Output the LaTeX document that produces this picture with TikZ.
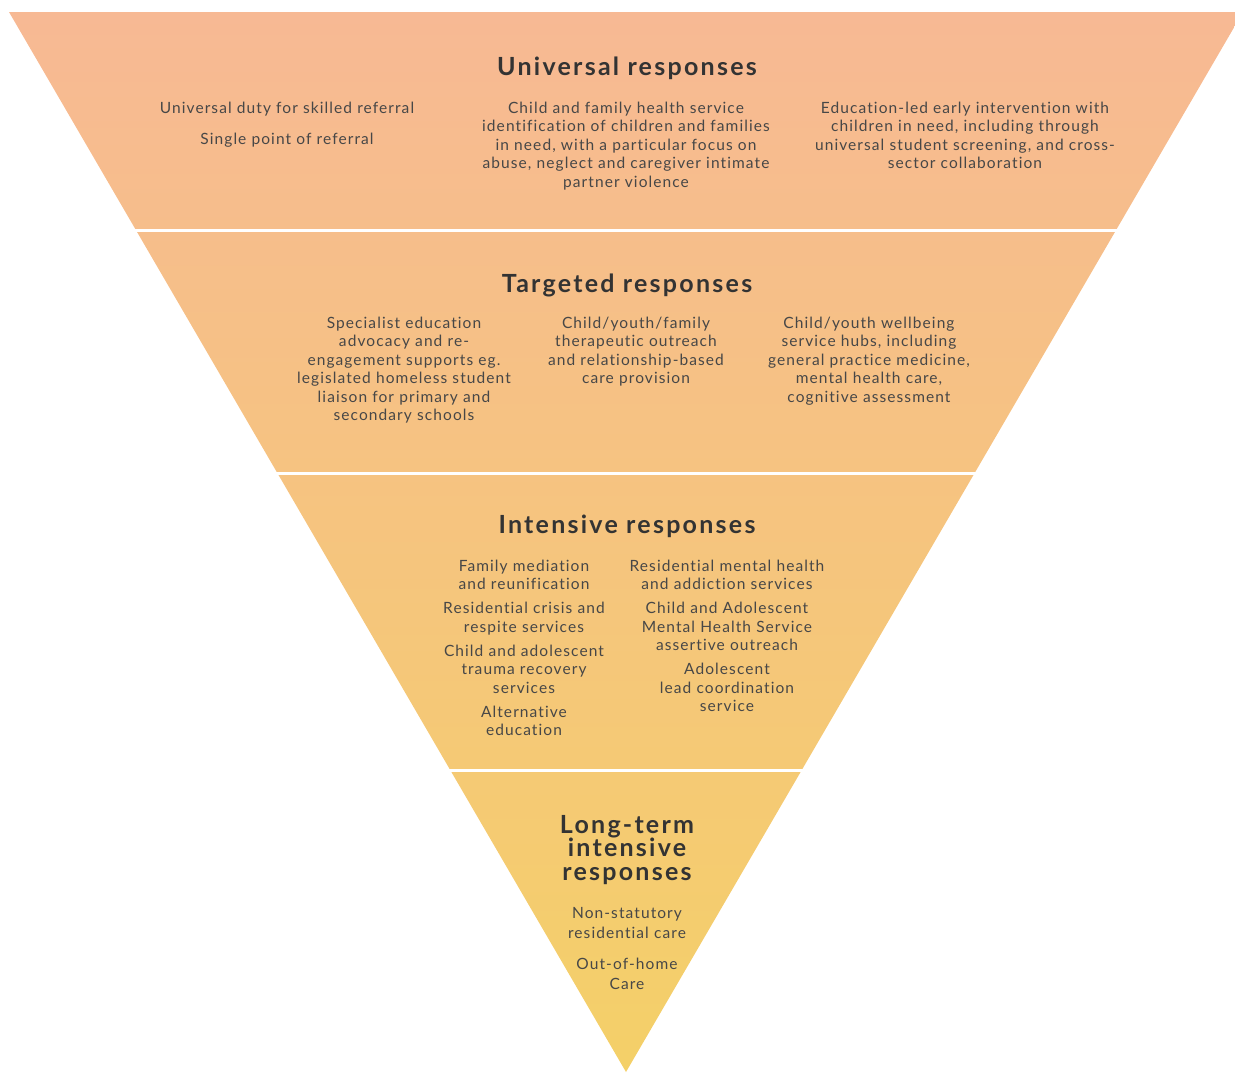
\documentclass[tikz,border=0pt]{standalone}
\usepackage{fontspec}
\setmainfont{Lato}[LetterSpace=7,Ligatures=NoCommon]
\newfontfamily\headf{Lato}[LetterSpace=9,Ligatures=NoCommon]
\definecolor{topc}{HTML}{F7B994}
\definecolor{botc}{HTML}{F4D068}
\definecolor{headc}{HTML}{333333}
\definecolor{bodyc}{HTML}{474747}
\begin{document}
\begin{tikzpicture}[x=1pt,y=-1pt,
  heading/.style={font=\headf\bfseries\fontsize{25}{23.5}\selectfont, text=headc, anchor=base, inner sep=0pt, text width=360pt, align=center},
  body/.style={font=\fontsize{15.5}{18.5}\selectfont, text=bodyc, anchor=base, inner sep=0pt, text width=360pt, align=center},
  sep/.style={white, line width=3pt}]
\useasboundingbox (0,0) rectangle (1235,1072);
\begin{scope}
  \clip (0,0) rectangle (1235,1072);
  \shade[top color=topc, bottom color=botc] (9,12) -- (1243,12) -- (626,1072) -- cycle;
  \coordinate (s1l) at (0,230);   \coordinate (s1r) at (1235,230);
  \coordinate (s2l) at (0,473);   \coordinate (s2r) at (1235,473);
  \coordinate (s3l) at (0,770);   \coordinate (s3r) at (1235,770);
  \draw[sep] (s1l) -- (s1r);
  \draw[sep] (s2l) -- (s2r);
  \draw[sep] (s3l) -- (s3r);
\end{scope}
% Universal
\node[heading] (uh) at (627,75) {Universal responses};
\node[body] (ul) at (287,113) {Universal duty for skilled referral\\[12.5pt]Single point of referral};
\node[body] (um) at (626,113) {Child and family health service\\identification of children and families\\in need, with a particular focus on\\abuse, neglect and caregiver intimate\\partner violence};
\node[body] (ur) at (965,113) {Education-led early intervention with\\children in need, including through\\universal student screening, and cross-\\sector collaboration};
% Targeted
\node[heading] (th) at (627,292) {Targeted responses};
\node[body] (tl) at (404,328) {Specialist education\\advocacy and re-\\engagement supports eg.\\legislated homeless student\\liaison for primary and\\secondary schools};
\node[body] (tm) at (636,328) {Child/youth/family\\therapeutic outreach\\and relationship-based\\care provision};
\node[body] (tr) at (869,328) {Child/youth wellbeing\\service hubs, including\\general practice medicine,\\mental health care,\\cognitive assessment};
% Intensive
\node[heading] (ih) at (627,533) {Intensive responses};
\node[body] (il) at (524,571) {Family mediation\\and reunification\\[5.5pt]Residential crisis and\\respite services\\[5.5pt]Child and adolescent\\trauma recovery\\services\\[5.5pt]Alternative\\education};
\node[body] (ir) at (727,571) {Residential mental health\\and addiction services\\[5.5pt]Child and Adolescent\\Mental Health Service\\assertive outreach\\[5.5pt]Adolescent\\lead coordination\\service};
% Long-term
\node[heading] (lh) at (627,833) {Long-term\\intensive\\responses};
\node[body, font=\fontsize{15.5}{20}\selectfont] (lb) at (627,918) {Non-statutory\\residential care\\[11pt]Out-of-home\\Care};
\end{tikzpicture}
\end{document}
